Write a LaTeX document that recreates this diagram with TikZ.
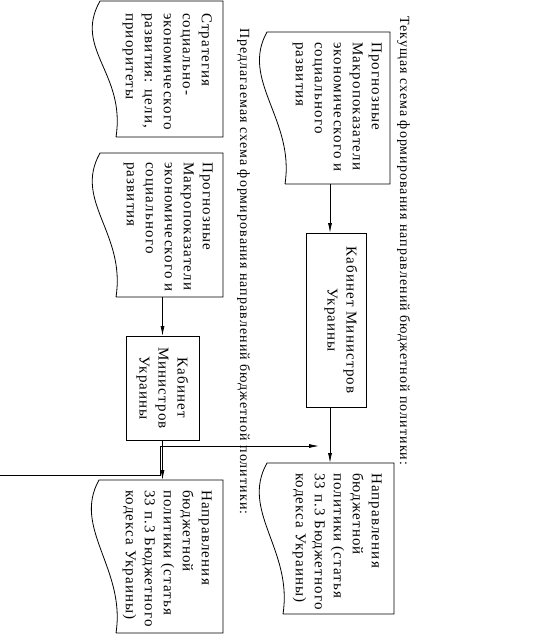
\documentclass[tikz,border=0pt]{standalone}
\usepackage{fontspec}
\setmainfont{Liberation Serif}[LetterSpace=7.5]
\usetikzlibrary{calc,arrows.meta}
\newcommand\docoutline[2]{%
  \draw[ln] (#1.south west) -- (#1.south east) -- (#1.north east)
    -- ($(#1.north west)+(-#2,0)$) .. controls +(-27,48) and +(10,-64) .. (#1.south west);}
\begin{document}
\begin{tikzpicture}[x=1pt,y=-1pt,
  ln/.style={line width=0.8pt},
  arr/.style={line width=0.8pt,-{Latex[length=10pt,width=4pt]}},
  geom/.style={rectangle,inner sep=0pt,outer sep=0pt,draw=none},
  plainbox/.style={rectangle,inner sep=0pt,outer sep=0pt,draw,line width=0.8pt},
  boxtxt/.style={rotate=-90,anchor=north west,inner sep=0pt,align=left,font=\fontsize{15}{19}\selectfont},
  ctrtxt/.style={rotate=-90,anchor=north,inner sep=0pt,align=center,font=\fontsize{15}{19}\selectfont},
  title/.style={rotate=-90,anchor=base west,inner sep=0pt,font=\fontsize{14}{17}\selectfont}]
\useasboundingbox (0,0) rectangle (543,642);
% titles
\node[title] (t1) at (400,16) {Текущая схема формирования направлений бюджетной политики:};
\node[title] (t2) at (240,28) {Предлагаемая схема формирования направлений бюджетной политики:};
% current scheme
\node[geom,minimum width=105pt,minimum height=152pt] (A) at (337.5,108) {};
\docoutline{A}{18}
\node[boxtxt] (At) at (382,42) {Прогнозные\\Макропоказатели\\экономического и\\социального\\развития};
\node[plainbox,minimum width=60pt,minimum height=174pt] (B) at (336,320) {};
\node[ctrtxt] (Bt) at (357.5,320) {Кабинет Министров\\Украины};
\node[geom,minimum width=111pt,minimum height=151pt] (C) at (338.5,538.5) {};
\docoutline{C}{16}
\node[boxtxt] (Ct) at (382,473) {Направления\\бюджетной\\политики (статья\\33 п.3 Бюджетного\\кодекса Украины)};
% proposed scheme
\node[geom,minimum width=107pt,minimum height=136pt] (E) at (169.5,69) {};
\docoutline{E}{16}
\node[boxtxt] (Et) at (212,13) {Стратегия\\социально-\\экономического\\развития: цели,\\приоритеты};
\node[geom,minimum width=107pt,minimum height=144pt] (F) at (169.5,225) {};
\docoutline{F}{16}
\node[boxtxt] (Ft) at (213,162) {Прогнозные\\Макропоказатели\\экономического и\\социального\\развития};
\node[plainbox,minimum width=73pt,minimum height=104pt] (G) at (162.5,388) {};
\node[ctrtxt] (Gt) at (188.5,388) {Кабинет\\Министров\\Украины};
\node[geom,minimum width=107pt,minimum height=153pt] (D) at (169.5,556.5) {};
\docoutline{D}{17}
\node[boxtxt] (Dt) at (212,490) {Направления\\бюджетной\\политики (статья\\33 п.3 Бюджетного\\кодекса Украины)};
% connectors
\draw[arr] ($(A.south)+(-7.5,0)$) -- ($(B.north)+(-6,0)$);
\draw[arr] ($(B.south)+(-6,0)$) -- ($(C.north)+(-8.5,0)$);
\draw[arr] (G.north |- F.south) -- (G.north);
\draw[arr] (G.south) -- (G.south |- D.north);
\coordinate (in) at (0,475);
\coordinate (k) at (160,446);
\coordinate (j) at (319,446);
\draw[arr] (in) -| (k) -- (j);
\end{tikzpicture}
\end{document}
